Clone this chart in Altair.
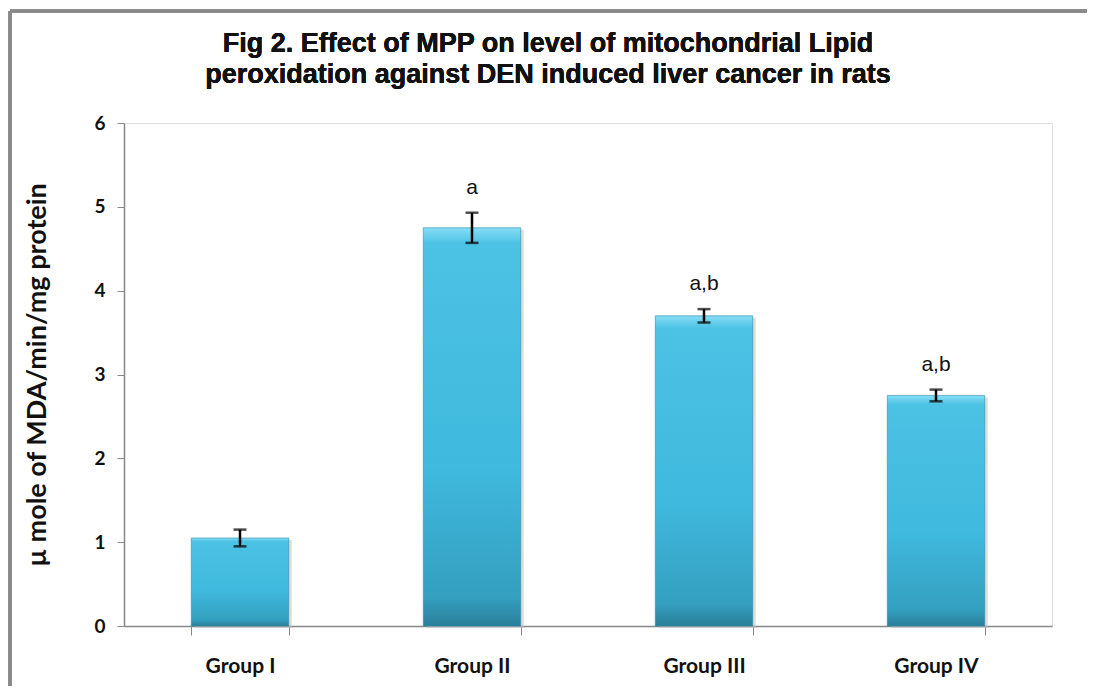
import altair as alt
import pandas as pd

groups = ["Group I", "Group II", "Group III", "Group IV"]
means = [1.05, 4.75, 3.70, 2.75]
errors = [0.10, 0.18, 0.08, 0.07]
sig_labels = ["", "a", "a,b", "a,b"]
title_lines = ["Fig 2. Effect of MPP on level of mitochondrial Lipid",
               "peroxidation against DEN induced liver cancer in rats"]

df = pd.DataFrame({
    "group": groups,
    "mean": means,
    "err": errors,
    "sig": sig_labels,
})
df["lo"] = df["mean"] - df["err"]
df["hi"] = df["mean"] + df["err"]

W, H = 928, 503

xscale = alt.Scale(domain=groups, paddingInner=0.58, paddingOuter=0.29)
yscale = alt.Scale(domain=[0, 6], nice=False)

x_enc = alt.X("group:N", scale=xscale, sort=groups, title=None,
              axis=alt.Axis(labelAngle=0, labelFont="Lato", labelFontWeight="bold",
                            labelFontSize=21, labelColor="#111", labelPadding=20,
                            tickBand="extent", tickSize=9, tickColor="#888",
                            domainColor="#888", domainWidth=1.5))

grad = alt.Gradient(
    gradient="linear",
    stops=[
        alt.GradientStop(color="#86def6", offset=0),
        alt.GradientStop(color="#4cc2e4", offset=0.04),
        alt.GradientStop(color="#3fb9de", offset=0.6),
        alt.GradientStop(color="#349fbf", offset=0.93),
        alt.GradientStop(color="#2a7f99", offset=1),
    ],
    x1=0, y1=0, x2=0, y2=1,
)

base = alt.Chart(df)

shadow = base.mark_bar(color="#bbbbbb", opacity=0.5, xOffset=3, yOffset=2).encode(
    x=x_enc,
    y=alt.Y("mean:Q", scale=yscale),
)

bars = base.mark_bar(color=grad, stroke="#2c8aa6", strokeWidth=0.6).encode(
    x=x_enc,
    y=alt.Y("mean:Q", scale=yscale,
            title="\u00b5 mole of MDA/min/mg protein",
            axis=alt.Axis(values=[0, 1, 2, 3, 4, 5, 6], format="d", grid=False,
                          labelFont="Lato", labelFontWeight="bold", labelFontSize=19,
                          labelColor="#111", labelPadding=12,
                          tickSize=7, tickColor="#888",
                          domainColor="#888", domainWidth=1.5,
                          titleFont="Lato", titleFontWeight="bold", titleFontSize=27,
                          titleColor="#111", titlePadding=42)),
)

err_rule = base.mark_rule(color="black", strokeWidth=2.5).encode(
    x=x_enc, y=alt.Y("lo:Q", scale=yscale), y2="hi:Q"
)
cap_hi = base.mark_tick(color="black", thickness=2.5, size=13, orient="horizontal").encode(
    x=x_enc, y=alt.Y("hi:Q", scale=yscale)
)
cap_lo = base.mark_tick(color="black", thickness=2.5, size=13, orient="horizontal").encode(
    x=x_enc, y=alt.Y("lo:Q", scale=yscale)
)

sig = base.mark_text(font="Liberation Sans", fontSize=21, color="#111",
                     baseline="bottom", dy=-15).encode(
    x=x_enc, y=alt.Y("hi:Q", scale=yscale), text="sig:N"
)

title1 = alt.Chart(df).mark_text(font="Liberation Sans", fontSize=27, fontWeight="bold",
                                 color="#111", text=title_lines[0]).encode(
    x=alt.value(424), y=alt.value(-79)
)
title2 = alt.Chart(df).mark_text(font="Liberation Sans", fontSize=27, fontWeight="bold",
                                 color="#111", text=title_lines[1]).encode(
    x=alt.value(424), y=alt.value(-48)
)

frame_left = alt.Chart(df).mark_rule(color="#888888", strokeWidth=3).encode(
    x=alt.value(-114), y=alt.value(-112), y2=alt.value(H + 80)
)
frame_top = alt.Chart(df).mark_rule(color="#888888", strokeWidth=3).encode(
    x=alt.value(-114), x2=alt.value(W + 40), y=alt.value(-112)
)

chart = alt.layer(frame_left, frame_top, title1, title2, shadow, bars, err_rule,
                  cap_hi, cap_lo, sig).properties(
    width=W, height=H,
    autosize=alt.AutoSizeParams(type="none"),
    padding={"left": 116, "top": 115, "right": 35, "bottom": 60},
).configure_view(stroke=None).configure(background="white")

chart.save("out.html", embed_options={"renderer": "svg", "actions": False})
